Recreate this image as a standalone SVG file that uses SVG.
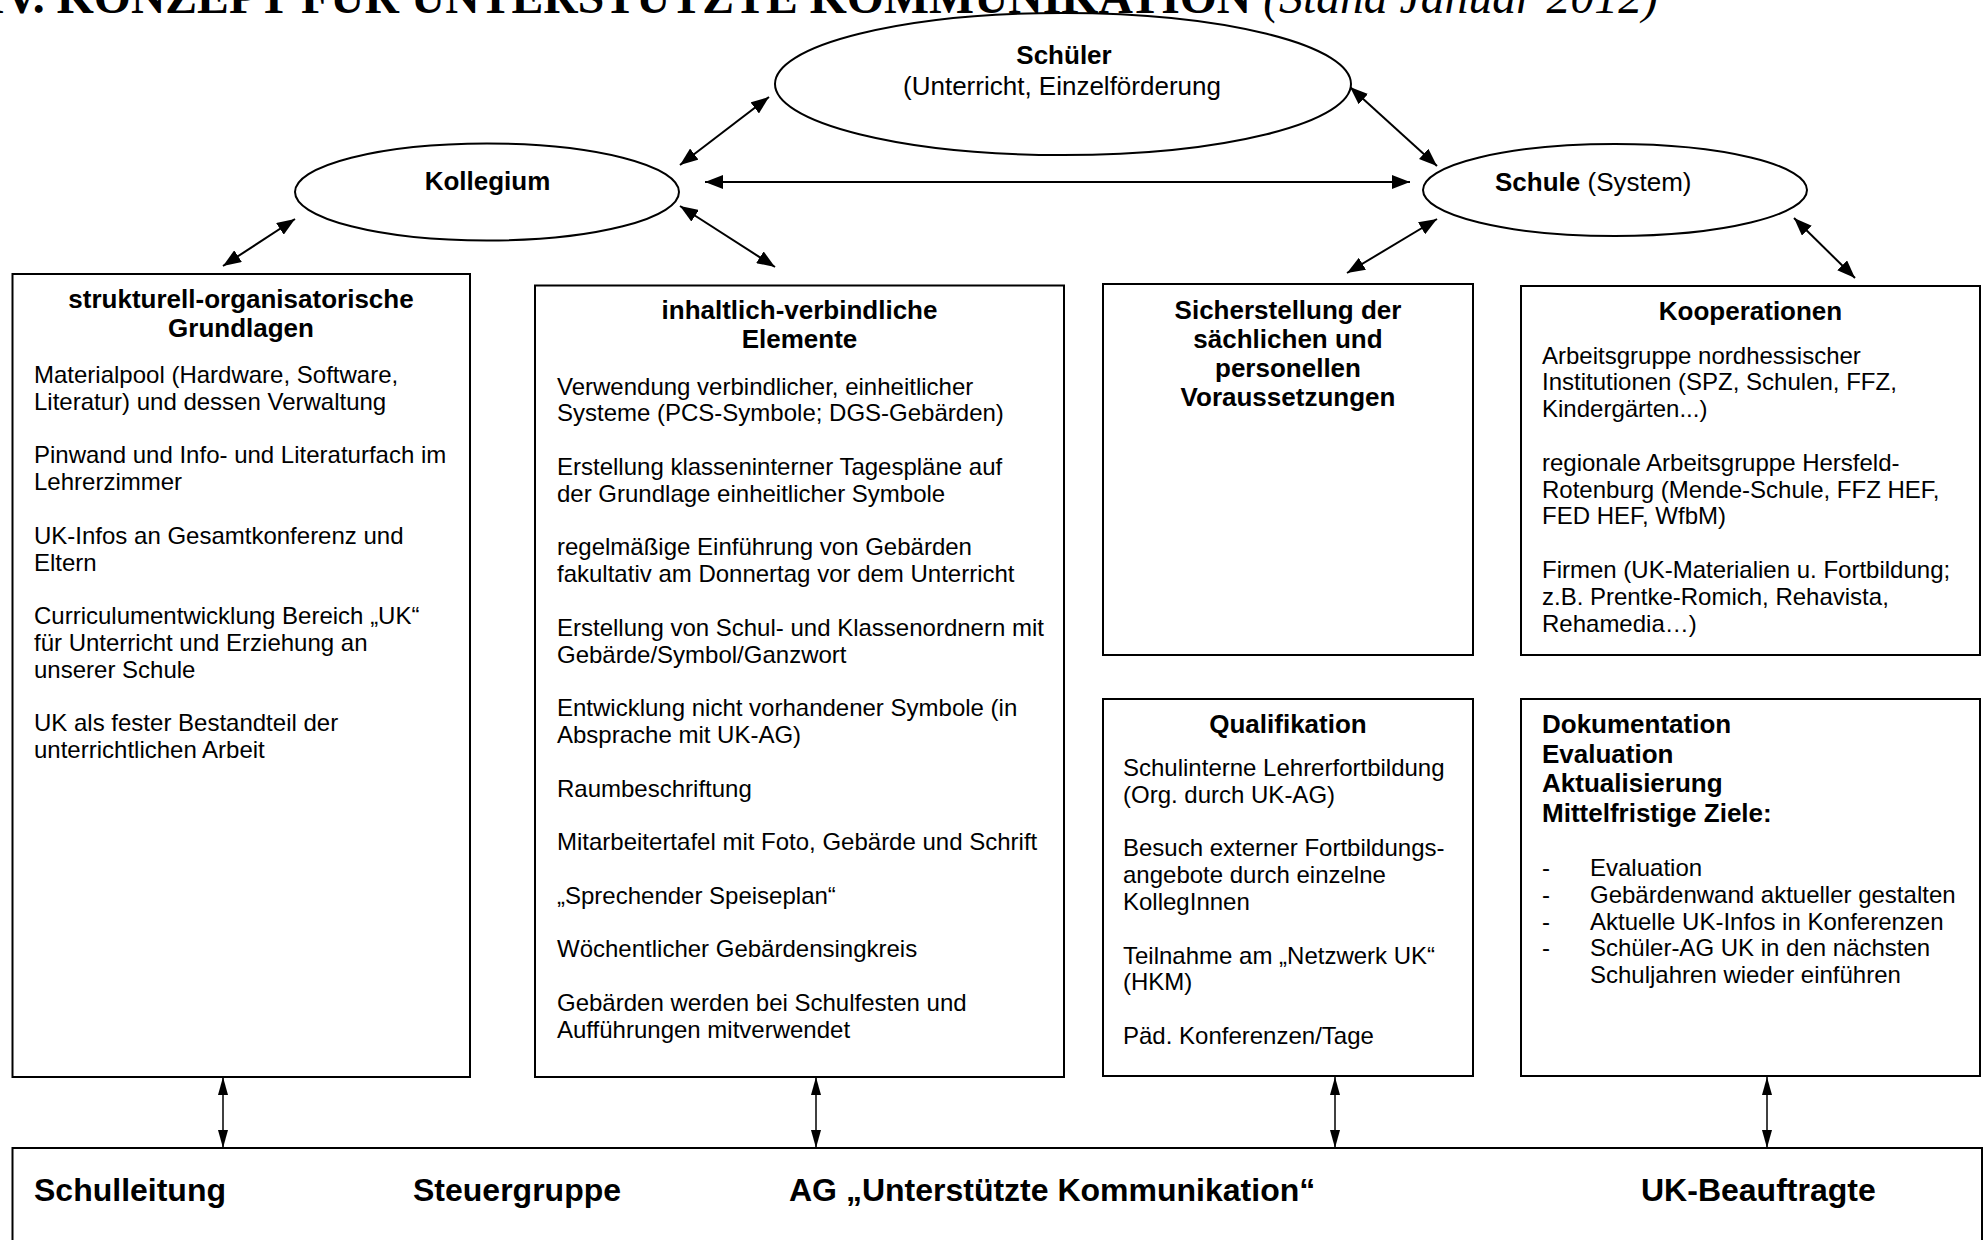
<svg xmlns="http://www.w3.org/2000/svg" width="1986" height="1240" viewBox="0 0 1986 1240">
<defs>
<style>
.box{fill:#fff;stroke:#000;stroke-width:2}
.ell{fill:#fff;stroke:#000;stroke-width:2}
text{font-family:"Liberation Sans",Arial,sans-serif;fill:#000}
.h{font-weight:bold;font-size:26px}
.lb{font-size:26px}
.b{font-size:24px}
.bot{font-weight:bold;font-size:32px}
.c{text-anchor:middle}
.con{stroke:#000;stroke-width:2;fill:none;marker-start:url(#ah);marker-end:url(#ah)}
.vcon{stroke:#000;stroke-width:1.5;fill:none;marker-start:url(#ahv);marker-end:url(#ahv)}
.title{font-family:"Liberation Serif","Times New Roman",serif;font-size:47.7px}
</style>
<marker id="ah" viewBox="0 0 18 14" refX="18" refY="7" markerWidth="18" markerHeight="14" markerUnits="userSpaceOnUse" orient="auto-start-reverse"><path d="M0,0 L18,7 L0,14 z" fill="#000"/></marker>
<marker id="ahv" viewBox="0 0 18 10" refX="18" refY="5" markerWidth="18" markerHeight="10" markerUnits="userSpaceOnUse" orient="auto-start-reverse"><path d="M0,0 L18,5 L0,10 z" fill="#000"/></marker>
</defs>
<rect width="1986" height="1240" fill="#fff"/>
<text class="title" x="-14" y="13"><tspan font-weight="bold">IV. KONZEPT FÜR UNTERSTÜTZTE KOMMUNIKATION </tspan><tspan font-style="italic">(Stand Januar 2012)</tspan></text>

<g id="connectors">
<line class="con" x1="680" y1="165" x2="769" y2="97"/>
<line class="con" x1="680" y1="206" x2="775" y2="267"/>
<line class="con" x1="295" y1="219" x2="223" y2="266"/>
<line class="con" x1="705" y1="182" x2="1410" y2="182"/>
<line class="con" x1="1350" y1="87" x2="1437" y2="166"/>
<line class="con" x1="1437" y1="219" x2="1347" y2="273"/>
<line class="con" x1="1794" y1="218" x2="1855" y2="278"/>
<line class="vcon" x1="223" y1="1077" x2="223" y2="1148"/>
<line class="vcon" x1="816" y1="1077" x2="816" y2="1148"/>
<line class="vcon" x1="1335" y1="1077" x2="1335" y2="1148"/>
<line class="vcon" x1="1767" y1="1077" x2="1767" y2="1148"/>
</g>

<g id="schueler">
<ellipse class="ell" cx="1063" cy="84" rx="288" ry="71"/>
<text class="h c" x="1064" y="64">Schüler</text>
<text class="lb c" x="1062" y="95">(Unterricht, Einzelförderung</text>
</g>

<g id="kollegium">
<ellipse class="ell" cx="487" cy="192" rx="192" ry="48.5"/>
<text class="h c" x="487.5" y="190">Kollegium</text>
</g>

<g id="schule">
<ellipse class="ell" cx="1615" cy="190" rx="192" ry="46"/>
<text class="lb" x="1495" y="191"><tspan font-weight="bold">Schule</tspan> (System)</text>
</g>

<g id="strukturell">
<rect class="box" x="12.5" y="274" width="457.5" height="803"/>
<text class="h c" x="241" y="308">strukturell-organisatorische</text>
<text class="h c" x="241" y="337">Grundlagen</text>
<text class="b" x="34">
<tspan x="34" y="383">Materialpool (Hardware, Software,</tspan>
<tspan x="34" y="409.8">Literatur) und dessen Verwaltung</tspan>
<tspan x="34" y="463.4">Pinwand und Info- und Literaturfach im</tspan>
<tspan x="34" y="490.2">Lehrerzimmer</tspan>
<tspan x="34" y="543.8">UK-Infos an Gesamtkonferenz und</tspan>
<tspan x="34" y="570.6">Eltern</tspan>
<tspan x="34" y="624.2">Curriculumentwicklung Bereich „UK“</tspan>
<tspan x="34" y="651">für Unterricht und Erziehung an</tspan>
<tspan x="34" y="677.8">unserer Schule</tspan>
<tspan x="34" y="731.4">UK als fester Bestandteil der</tspan>
<tspan x="34" y="758.2">unterrichtlichen Arbeit</tspan>
</text>
</g>

<g id="inhaltlich">
<rect class="box" x="535" y="285.5" width="529" height="791.5"/>
<text class="h c" x="799.5" y="319">inhaltlich-verbindliche</text>
<text class="h c" x="799.5" y="348">Elemente</text>
<text class="b">
<tspan x="557" y="394.5">Verwendung verbindlicher, einheitlicher</tspan>
<tspan x="557" y="421.3">Systeme (PCS-Symbole; DGS-Gebärden)</tspan>
<tspan x="557" y="474.9">Erstellung klasseninterner Tagespläne auf</tspan>
<tspan x="557" y="501.7">der Grundlage einheitlicher Symbole</tspan>
<tspan x="557" y="555.3">regelmäßige Einführung von Gebärden</tspan>
<tspan x="557" y="582.1">fakultativ am Donnertag vor dem Unterricht</tspan>
<tspan x="557" y="635.7">Erstellung von Schul- und Klassenordnern mit</tspan>
<tspan x="557" y="662.5">Gebärde/Symbol/Ganzwort</tspan>
<tspan x="557" y="716.1">Entwicklung nicht vorhandener Symbole (in</tspan>
<tspan x="557" y="742.9">Absprache mit UK-AG)</tspan>
<tspan x="557" y="796.5">Raumbeschriftung</tspan>
<tspan x="557" y="850.1">Mitarbeitertafel mit Foto, Gebärde und Schrift</tspan>
<tspan x="557" y="903.7">„Sprechender Speiseplan“</tspan>
<tspan x="557" y="957.3">Wöchentlicher Gebärdensingkreis</tspan>
<tspan x="557" y="1010.9">Gebärden werden bei Schulfesten und</tspan>
<tspan x="557" y="1037.7">Aufführungen mitverwendet</tspan>
</text>
</g>

<g id="sicherstellung">
<rect class="box" x="1103" y="284" width="370" height="371"/>
<text class="h c" x="1288" y="319">Sicherstellung der</text>
<text class="h c" x="1288" y="348">sächlichen und</text>
<text class="h c" x="1288" y="377">personellen</text>
<text class="h c" x="1288" y="406">Voraussetzungen</text>
</g>

<g id="kooperationen">
<rect class="box" x="1521" y="286" width="459" height="369"/>
<text class="h c" x="1750.5" y="320">Kooperationen</text>
<text class="b">
<tspan x="1542" y="363.5">Arbeitsgruppe nordhessischer</tspan>
<tspan x="1542" y="390.3">Institutionen (SPZ, Schulen, FFZ,</tspan>
<tspan x="1542" y="417.1">Kindergärten...)</tspan>
<tspan x="1542" y="470.7">regionale Arbeitsgruppe Hersfeld-</tspan>
<tspan x="1542" y="497.5">Rotenburg (Mende-Schule, FFZ HEF,</tspan>
<tspan x="1542" y="524.3">FED HEF, WfbM)</tspan>
<tspan x="1542" y="577.9">Firmen (UK-Materialien u. Fortbildung;</tspan>
<tspan x="1542" y="604.7">z.B. Prentke-Romich, Rehavista,</tspan>
<tspan x="1542" y="631.5">Rehamedia…)</tspan>
</text>
</g>

<g id="qualifikation">
<rect class="box" x="1103" y="699" width="370" height="377"/>
<text class="h c" x="1288" y="733">Qualifikation</text>
<text class="b">
<tspan x="1123" y="776">Schulinterne Lehrerfortbildung</tspan>
<tspan x="1123" y="802.8">(Org. durch UK-AG)</tspan>
<tspan x="1123" y="856.4">Besuch externer Fortbildungs-</tspan>
<tspan x="1123" y="883.2">angebote durch einzelne</tspan>
<tspan x="1123" y="910">KollegInnen</tspan>
<tspan x="1123" y="963.6">Teilnahme am „Netzwerk UK“</tspan>
<tspan x="1123" y="990.4">(HKM)</tspan>
<tspan x="1123" y="1044">Päd. Konferenzen/Tage</tspan>
</text>
</g>

<g id="dokumentation">
<rect class="box" x="1521" y="699" width="459" height="377"/>
<text class="h">
<tspan x="1542" y="733">Dokumentation</tspan>
<tspan x="1542" y="762.5">Evaluation</tspan>
<tspan x="1542" y="792">Aktualisierung</tspan>
<tspan x="1542" y="821.5">Mittelfristige Ziele:</tspan>
</text>
<text class="b">
<tspan x="1542" y="876">-</tspan>
<tspan x="1542" y="902.8">-</tspan>
<tspan x="1542" y="929.6">-</tspan>
<tspan x="1542" y="956.4">-</tspan>
</text>
<text class="b">
<tspan x="1590" y="876">Evaluation</tspan>
<tspan x="1590" y="902.8">Gebärdenwand aktueller gestalten</tspan>
<tspan x="1590" y="929.6">Aktuelle UK-Infos in Konferenzen</tspan>
<tspan x="1590" y="956.4">Schüler-AG UK in den nächsten</tspan>
<tspan x="1590" y="983.2">Schuljahren wieder einführen</tspan>
</text>
</g>

<g id="leitung">
<rect class="box" x="12.5" y="1148" width="1969.5" height="110"/>
<text class="bot" x="34" y="1201">Schulleitung</text>
<text class="bot" x="413" y="1201">Steuergruppe</text>
<text class="bot" x="789" y="1201">AG „Unterstützte Kommunikation“</text>
<text class="bot" x="1641" y="1201">UK-Beauftragte</text>
</g>
</svg>
